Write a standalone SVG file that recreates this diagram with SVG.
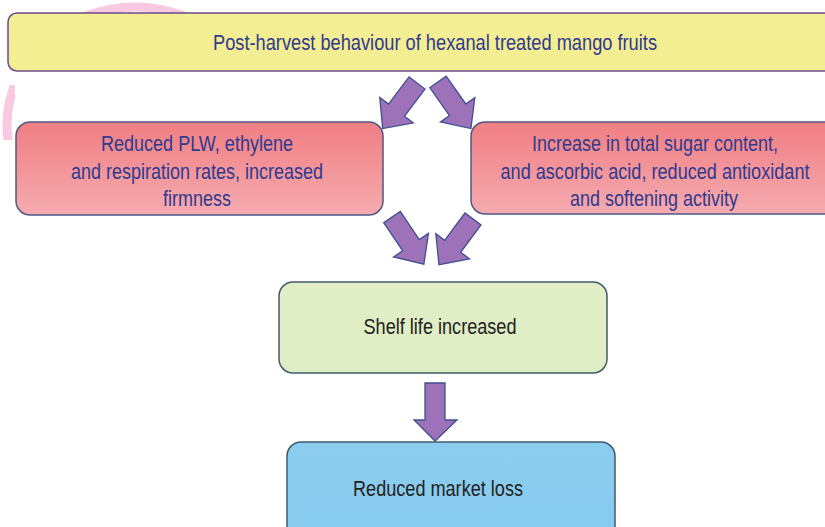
<svg xmlns="http://www.w3.org/2000/svg" width="825" height="527" viewBox="0 0 825 527">
<defs>
<linearGradient id="gRed" x1="0" y1="0" x2="0" y2="1"><stop offset="0" stop-color="#f07e82"/><stop offset="1" stop-color="#f5abb0"/></linearGradient>
<linearGradient id="gYel" x1="0" y1="0" x2="0" y2="1"><stop offset="0" stop-color="#f4ee94"/><stop offset="1" stop-color="#f3ee92"/></linearGradient>
<linearGradient id="gGrn" x1="0" y1="0" x2="0" y2="1"><stop offset="0" stop-color="#e1eec6"/><stop offset="1" stop-color="#dfedc4"/></linearGradient>
<linearGradient id="gBlu" x1="0" y1="0" x2="0" y2="1"><stop offset="0" stop-color="#8ccdef"/><stop offset="1" stop-color="#86cbee"/></linearGradient>
<clipPath id="wm"><rect x="0" y="0" width="220" height="13"/><rect x="0" y="85" width="15" height="55"/></clipPath>
<polygon id="diag" points="0,-10 34,-10 34,-21 57,0 34,21 34,10 0,10"/>
</defs>
<style>
.t{font-family:"Liberation Sans",Arial,sans-serif;font-size:22px;text-anchor:middle}
.b{fill:#2f3a8f}
.k{fill:#222222}
.arr{fill:#9d72b9;stroke:#3f4f8e;stroke-width:1.3;stroke-linejoin:miter}
</style>
<rect width="825" height="527" fill="#ffffff"/>
<ellipse cx="135" cy="125" rx="128" ry="118" fill="none" stroke="#f6bcd8" stroke-width="9" opacity="0.8" clip-path="url(#wm)"/>
<g id="n1">
<rect x="8" y="13" width="830" height="58" rx="9" fill="url(#gYel)" stroke="#6b4a8c" stroke-width="1.5"/>
<text class="t b" x="435" y="50" textLength="444" lengthAdjust="spacingAndGlyphs">Post-harvest behaviour of hexanal treated mango fruits</text>
</g>
<g id="n2">
<rect x="16" y="122" width="367" height="93" rx="14" fill="url(#gRed)" stroke="#4b5a86" stroke-width="1.5"/>
<text class="t b" x="197" y="151" textLength="192" lengthAdjust="spacingAndGlyphs">Reduced PLW, ethylene</text>
<text class="t b" x="197" y="179" textLength="252" lengthAdjust="spacingAndGlyphs">and respiration rates, increased</text>
<text class="t b" x="197" y="206" textLength="68" lengthAdjust="spacingAndGlyphs">firmness</text>
</g>
<g id="n3">
<rect x="471" y="122" width="370" height="92" rx="14" fill="url(#gRed)" stroke="#4b5a86" stroke-width="1.5"/>
<text class="t b" x="655" y="151" textLength="246" lengthAdjust="spacingAndGlyphs">Increase in total sugar content,</text>
<text class="t b" x="655" y="179" textLength="309" lengthAdjust="spacingAndGlyphs">and ascorbic acid, reduced antioxidant</text>
<text class="t b" x="654" y="206" textLength="168" lengthAdjust="spacingAndGlyphs">and softening activity</text>
</g>
<g id="n4">
<rect x="279" y="282" width="328" height="91" rx="14" fill="url(#gGrn)" stroke="#3f5a6e" stroke-width="1.5"/>
<text class="t k" x="440" y="334" textLength="153" lengthAdjust="spacingAndGlyphs">Shelf life increased</text>
</g>
<g id="n5">
<rect x="287" y="442" width="328" height="100" rx="14" fill="url(#gBlu)" stroke="#3f5a6e" stroke-width="1.5"/>
<text class="t k" x="438" y="496" textLength="170" lengthAdjust="spacingAndGlyphs">Reduced market loss</text>
</g>
<g id="connectors">
<use href="#diag" class="arr" transform="translate(417,83) rotate(127)"/>
<use href="#diag" class="arr" transform="translate(438,82) rotate(54.7)"/>
<use href="#diag" class="arr" transform="translate(392,217) rotate(56)"/>
<use href="#diag" class="arr" transform="translate(473,219) rotate(126.7)"/>
<polygon class="arr" points="425,383 445,383 445,420 457,420 435,441 414,420 425,420"/>
</g>
</svg>
